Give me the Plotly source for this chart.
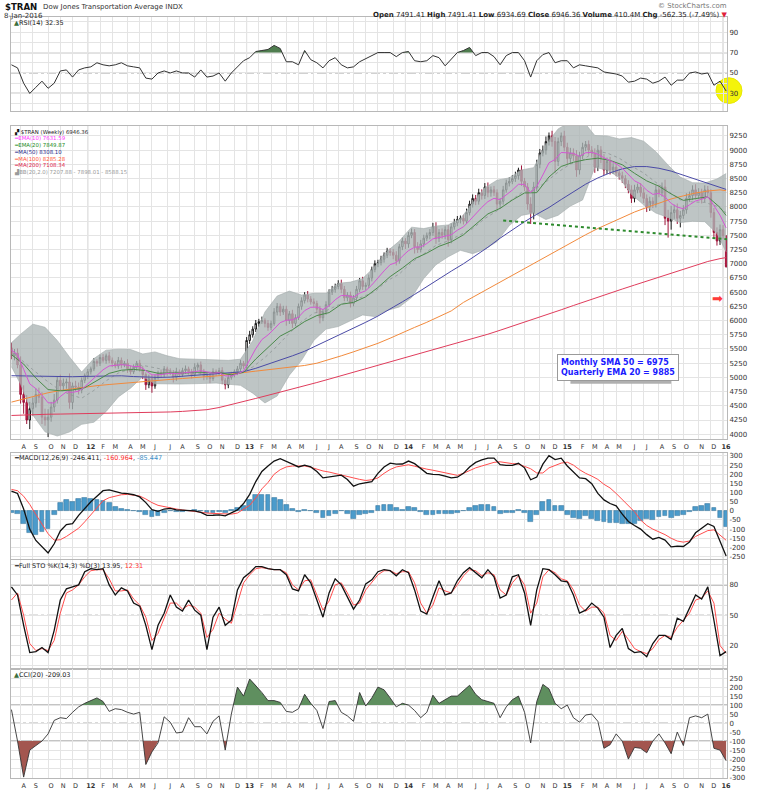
import pandas as pd
import plotly.graph_objects as go
from plotly.subplots import make_subplots

# ---------------- data (weekly) ----------------
START = "2011-07-15"
FIRST_OPEN = 5520

close = [
    5380, 5430, 5220, 4700, 4560, 4250, 4450, 4550, 4700, 4650,
    4300, 4250, 4300, 4480, 4600, 4950, 4850, 4900, 4920, 4560,
    4850, 4830, 4780, 4950, 5030, 5100, 5150, 5280, 5250, 5350,
    5300, 5380, 5300, 5250, 5200, 5300, 5220, 5250, 5150, 5100,
    5180, 5250, 5150, 5050, 4870, 4980, 4850, 5000, 5080, 5050,
    5150, 5100, 5080, 5000, 5100, 5050, 5120, 5150, 5100, 5050,
    5180, 5220, 5100, 5020, 5050, 4980, 5100, 5080, 5120, 4950,
    4870, 5000, 5050, 5100, 5150, 5250, 5200, 5650, 5750, 5850,
    5950, 5980, 6000, 5950, 5880, 5950, 6150, 6250, 6150, 6200,
    6000, 6120, 5950, 6050, 6250, 6350, 6450, 6380, 6330, 6300,
    6200, 6050, 6150, 6280, 6500, 6550, 6600, 6650, 6550, 6400,
    6450, 6300, 6400, 6550, 6700, 6600, 6620, 6750, 6900, 7000,
    7020, 7080, 7150, 7220, 7200, 7150, 7050, 7300, 7400, 7350,
    7500, 7550, 7300, 7250, 7350, 7450, 7500, 7550, 7650, 7450,
    7550, 7500, 7600, 7420, 7650, 7720, 7780, 7800, 7750, 7900,
    8050, 8150, 8100, 8250, 8200, 8350, 8250, 8300, 8250, 8050,
    8100, 8300, 8420, 8450, 8500, 8550, 8650, 8450, 8350, 8050,
    7900, 8350, 8750, 8950, 9000, 9150, 9250, 9150, 8800, 9150,
    9250, 9050, 8850, 8950, 8900, 8650, 8900, 9050, 9100, 9000,
    8950, 8700, 9000, 8850, 8650, 8800, 8650, 8700, 8600, 8550,
    8500, 8400, 8300, 8150, 8300, 8350, 8250, 8150, 8000, 8100,
    8050, 8300, 8250, 8350, 7800, 7750, 7900, 7950, 7800, 7850,
    7950, 8150, 8200, 8300, 8200, 8250, 8150, 8300, 8250, 7900,
    7550, 7400, 7600, 7491.41, 6946.36,
]
wick_hi = [
    90, 70, 80, 150, 160, 130, 120, 100, 110, 120,
    90, 150, 140, 90, 110, 70, 100, 80, 60, 150,
    60, 90, 80, 50, 40, 50, 40, 60, 40, 50,
    60, 40, 70, 50, 40, 60, 50, 40, 70, 60,
    50, 40, 60, 50, 40, 70, 60, 50, 40, 60,
    50, 40, 60, 50, 70, 40, 50, 60, 40, 50,
    70, 40, 60, 50, 40, 50, 60, 40, 50, 60,
    40, 60, 50, 40, 50, 60, 40, 60, 70, 50,
    60, 50, 70, 40, 60, 50, 70, 60, 50, 60,
    60, 50, 70, 60, 50, 60, 50, 70, 50, 60,
    50, 60, 50, 60, 50, 60, 50, 60, 70, 60,
    50, 60, 50, 60, 50, 70, 50, 60, 50, 60,
    50, 60, 50, 60, 50, 60, 70, 50, 60, 50,
    60, 70, 60, 80, 70, 60, 50, 60, 70, 80,
    60, 70, 60, 80, 60, 70, 60, 50, 60, 70,
    60, 70, 60, 70, 60, 70, 80, 60, 70, 60,
    60, 70, 60, 70, 60, 70, 40, 80, 60, 70,
    120, 90, 80, 70, 80, 90, 60, 90, 80, 70,
    60, 90, 80, 90, 80, 100, 70, 80, 60, 70,
    70, 80, 90, 70, 80, 70, 80, 70, 60, 70,
    70, 60, 70, 80, 90, 60, 70, 80, 70, 80,
    70, 80, 90, 80, 130, 150, 120, 90, 110, 80,
    80, 90, 70, 80, 100, 80, 70, 80, 70, 60,
    80, 90, 90, 80, 0,
]
wick_lo = [
    60, 80, 60, 160, 200, 70, 160, 120, 80, 100,
    120, 100, 300, 80, 90, 60, 80, 90, 100, 110,
    120, 70, 80, 60, 50, 60, 50, 40, 60, 50,
    40, 60, 50, 70, 40, 50, 60, 40, 70, 50,
    40, 60, 50, 80, 90, 60, 120, 50, 40, 60,
    50, 70, 40, 90, 60, 50, 40, 60, 50, 70,
    40, 60, 50, 70, 60, 80, 40, 60, 50, 70,
    80, 60, 40, 50, 60, 40, 50, 40, 60, 50,
    50, 60, 40, 70, 60, 50, 40, 60, 70, 50,
    90, 60, 80, 50, 40, 60, 50, 60, 50, 60,
    70, 100, 60, 50, 40, 50, 60, 50, 70, 60,
    60, 70, 50, 60, 50, 60, 70, 50, 60, 50,
    60, 50, 60, 50, 60, 70, 80, 50, 60, 90,
    70, 50, 120, 60, 50, 60, 50, 70, 60, 100,
    70, 60, 70, 120, 60, 50, 60, 70, 60, 50,
    50, 60, 70, 60, 70, 60, 80, 70, 60, 90,
    80, 60, 50, 60, 50, 60, 70, 80, 70, 100,
    200, 120, 80, 70, 60, 80, 70, 90, 200, 80,
    80, 70, 100, 80, 90, 120, 80, 60, 70, 80,
    80, 100, 70, 80, 90, 70, 80, 70, 60, 70,
    80, 70, 60, 80, 70, 60, 70, 80, 90, 70,
    70, 60, 80, 70, 120, 290, 150, 110, 100, 160,
    60, 70, 60, 80, 70, 60, 90, 70, 60, 90,
    100, 80, 70, 60, 11.67,
]

# every second week
ema10 = [
    5480, 5400, 5143, 4886, 4802, 4689, 4553, 4551, 4664, 4746,
    4737, 4758, 4836, 4932, 5041, 5134, 5201, 5208, 5224, 5214,
    5191, 5192, 5113, 5045, 5045, 5065, 5073, 5067, 5074, 5090,
    5100, 5118, 5091, 5076, 5085, 5026, 5026, 5060, 5113, 5309,
    5506, 5666, 5747, 5851, 5964, 6006, 6013, 6061, 6175, 6234,
    6237, 6194, 6262, 6366, 6442, 6437, 6410, 6483, 6525, 6627,
    6754, 6874, 6985, 7021, 7132, 7231, 7291, 7296, 7356, 7438,
    7460, 7491, 7510, 7590, 7650, 7760, 7880, 7993, 8093, 8152,
    8128, 8206, 8296, 8398, 8397, 8255, 8359, 8563, 8775, 8835,
    8958, 8952, 8942, 8891, 8953, 8959, 8928, 8866, 8817, 8760,
    8682, 8570, 8459, 8405, 8294, 8221, 8238, 8175, 8062, 7998,
    7967, 8037, 8105, 8135, 8180, 8024, 7854, 7631.59,
]
rsi = [
    58, 55, 40, 30, 36, 42, 35, 40, 52, 53,
    46, 53, 55, 56, 60, 58, 57, 58, 60, 57,
    56, 55, 45, 44, 50, 52, 50, 52, 50, 50,
    46, 53, 46, 47, 50, 42, 50, 56, 62, 65,
    71, 72, 73, 77, 74, 61, 61, 58, 72, 63,
    60, 55, 62, 65, 58, 55, 56, 61, 64, 67,
    70, 70, 70, 66, 70, 71, 62, 61, 62, 67,
    65, 57, 63, 70, 72, 75, 67, 70, 70, 66,
    58, 67, 70, 70, 62, 46, 62, 68, 70, 60,
    62, 62, 55, 58, 57, 56, 55, 51, 50, 49,
    47, 41, 42, 45, 44, 40, 42, 46, 38, 43,
    43, 50, 51, 49, 50, 38, 42, 32.35,
]
macd = [
    108, 95, 10, -100, -162, -195, -230, -180, -110, -75,
    -70, -25, 15, 50, 80, 110, 115, 105, 97, 94,
    88, 76, 45, 7, -3, 10, 14, 5, 2, 0,
    0, -9, -25, -24, -22, -27, -12, 5, 40, 90,
    160, 215, 245, 272, 285, 272, 255, 240, 250, 240,
    215, 180, 185, 190, 195, 171, 135, 148, 152, 160,
    205, 240, 261, 255, 256, 272, 258, 230, 205, 199,
    198, 190, 180, 184, 205, 240, 265, 278, 288, 288,
    252, 248, 248, 260, 235, 170, 185, 255, 302, 280,
    288, 245, 210, 180, 176, 148, 95, 60, 40, 27,
    -18, -58, -80, -100, -130, -155, -145, -160, -197, -193,
    -195, -170, -120, -95, -70, -85, -170, -246.411,
]
macd_signal = [
    117, 110, 80, 35, -20, -75, -125, -160, -158, -140,
    -118, -95, -60, -20, 20, 55, 72, 82, 88, 90,
    86, 81, 65, 45, 30, 22, 15, 10, 5, 0,
    -5, -9, -12, -14, -15, -17, -18, -12, 10, 30,
    70, 120, 155, 200, 225, 240, 245, 247, 245, 238,
    226, 218, 212, 205, 196, 189, 180, 172, 166, 170,
    180, 205, 226, 240, 248, 252, 244, 235, 228, 222,
    215, 205, 198, 194, 205, 222, 235, 245, 253, 265,
    268, 261, 258, 256, 245, 230, 207, 207, 235, 250,
    261, 266, 250, 225, 205, 190, 172, 145, 125, 95,
    63, 30, -5, -50, -80, -100, -115, -130, -150, -165,
    -171, -165, -140, -125, -108, -104, -130, -160.964,
]
macd_hist = [
    -9, -15, -70, -120, -130, -115, -100, -20, 45, 60,
    48, 65, 70, 65, 58, 52, 43, 23, 9, 4,
    2, -5, -20, -35, -30, -12, -1, -5, -3, 0,
    5, 0, -13, -10, -7, -10, 6, 17, 30, 60,
    85, 90, 85, 72, 60, 32, 10, -7, 5, 2,
    -11, -38, -27, -15, -1, -18, -42, -24, -14, -10,
    25, 35, 35, 15, 8, 20, 14, -5, -23, -23,
    -17, -15, -18, -10, 0, 18, 30, 33, 35, 23,
    -16, -13, -10, 4, -10, -60, -22, 48, 60, 30,
    27, -21, -40, -45, -29, -42, -55, -60, -65, -65,
    -70, -72, -70, -55, -45, -50, -35, -30, -40, -30,
    -22, -5, 20, 30, 38, 19, -40, -85.447,
]
sto_k = [
    78, 70, 40, 13, 14, 18, 13, 35, 65, 76,
    78, 80, 93, 96, 95, 96, 80, 70, 77, 74,
    62, 59, 40, 16, 40, 52, 70, 58, 54, 65,
    55, 50, 16, 48, 58, 40, 45, 75, 87, 92,
    98, 98, 96, 95, 95, 90, 76, 74, 90, 82,
    65, 48, 72, 86, 80, 68, 56, 65, 81, 85,
    93, 95, 94, 89, 95, 92, 75, 54, 51, 68,
    84, 70, 72, 84, 92, 97, 92, 87, 95, 88,
    67, 70, 88, 90, 72, 40, 75, 96, 95, 90,
    84, 83, 70, 52, 55, 62, 57, 48, 18, 30,
    37, 17, 13, 14, 9, 22, 30, 30, 26, 47,
    44, 57, 70, 66, 78, 45, 10, 13.95,
]
sto_d = [
    65, 72, 50, 22, 15, 17, 15, 25, 52, 72,
    75, 80, 88, 94, 95, 95, 86, 74, 74, 75,
    66, 60, 48, 25, 32, 48, 62, 62, 56, 60,
    58, 52, 28, 36, 52, 46, 42, 62, 82, 90,
    96, 97, 96, 95, 95, 92, 80, 75, 84, 85,
    70, 55, 64, 80, 82, 72, 60, 62, 75, 83,
    90, 94, 94, 91, 93, 93, 82, 62, 52, 60,
    77, 74, 72, 80, 89, 95, 94, 89, 92, 90,
    75, 70, 82, 89, 80, 52, 62, 88, 95, 92,
    86, 84, 75, 60, 54, 58, 58, 52, 30, 25,
    34, 26, 17, 14, 12, 17, 26, 30, 28, 38,
    45, 52, 65, 67, 74, 62, 20, 12.31,
]
cci = [
    75, -100, -300, -150, -125, -100, -60, 15, 30, 25,
    60, 90, 110, 125, 140, 120, 65, 80, 75, 60,
    50, 60, -230, -160, -110, 35, 5, -55, -50, 30,
    -20, -20, -60, 10, 40, -150, 50, 200, 150, 245,
    210, 170, 125, 125, 115, 65, 60, 80, 160, 110,
    70, -30, 120, 125, 60, 40, 10, 170, 95, 140,
    200, 185, 140, 90, 110, 100, 70, 30, 60, 155,
    110, 130, 150, 150, 180, 210, 160, 130, 120, 110,
    30, 90, 130, 150, 60, -110, 120, 215, 190, 110,
    80, 100, 30, 5, 45, 50, 10, -140, -120, -60,
    -100, -200, -135, -140, -165, -100, -60, -110, -170, -50,
    -125, 30, 40, 30, 50, -140, -150, -209.03,
]

# every fourth week (weeks 0,4,...,232 and the last week)
ema20 = [
    5400, 5235, 4988, 4786, 4764, 4779, 4818, 4942, 5071, 5127,
    5141, 5121, 5073, 5080, 5076, 5091, 5093, 5085, 5046, 5089,
    5324, 5531, 5727, 5839, 5983, 6088, 6140, 6287, 6320, 6418,
    6583, 6774, 6923, 7089, 7187, 7307, 7385, 7509, 7688, 7877,
    7975, 8121, 8246, 8251, 8527, 8712, 8786, 8832, 8858, 8818,
    8742, 8592, 8458, 8365, 8228, 8115, 8147, 8177, 7991, 7849.87,
]
ma50 = [
    5030, 5025, 5020, 5015, 5010, 5012, 5018, 5025, 5030, 5028,
    5015, 5005, 5000, 5005, 5020, 5035, 5050, 5060, 5075, 5100,
    5160, 5230, 5300, 5380, 5460, 5560, 5660, 5760, 5860, 5970,
    6080, 6200, 6330, 6460, 6600, 6740, 6870, 7000, 7140, 7290,
    7450, 7600, 7740, 7870, 7990, 8130, 8270, 8400, 8510, 8600,
    8670, 8710, 8710, 8680, 8630, 8560, 8490, 8420, 8350, 8308.10,
]
ma100 = [
    4565, 4620, 4680, 4730, 4770, 4800, 4830, 4855, 4875, 4895,
    4915, 4935, 4950, 4965, 4980, 4995, 5005, 5030, 5060, 5090,
    5110, 5135, 5160, 5185, 5210, 5250, 5310, 5380, 5450, 5520,
    5600, 5690, 5790, 5880, 5970, 6070, 6170, 6320, 6440, 6560,
    6680, 6800, 6920, 7040, 7160, 7280, 7400, 7510, 7620, 7720,
    7820, 7910, 7990, 8070, 8140, 8195, 8245, 8280, 8300, 8285.28,
]
ma200 = [
    4330, 4340, 4348, 4352, 4355, 4358, 4362, 4365, 4368, 4372,
    4375, 4378, 4385, 4392, 4402, 4414, 4432, 4470, 4520, 4575,
    4630, 4685, 4740, 4790, 4850, 4910, 4970, 5030, 5090, 5150,
    5210, 5268, 5330, 5390, 5450, 5510, 5570, 5630, 5690, 5760,
    5830, 5900, 5970, 6045, 6118, 6190, 6265, 6340, 6410, 6480,
    6555, 6625, 6695, 6765, 6840, 6910, 6980, 7040, 7090, 7108.34,
]
# Bollinger band samples (weeks 0,3,7,...,231 and the last week)
bb_mid = [
    5400, 5320, 5137, 4962, 4808, 4700, 4634, 4771, 4940, 5076,
    5151, 5212, 5169, 5124, 5083, 5068, 5062, 5088, 5066, 5082,
    5183, 5351, 5552, 5779, 5981, 6132, 6172, 6275, 6337, 6419,
    6510, 6699, 6819, 7024, 7179, 7323, 7403, 7516, 7618, 7796,
    7931, 8091, 8251, 8291, 8438, 8613, 8755, 8822, 8977, 8950,
    8857, 8720, 8597, 8432, 8275, 8125, 8087, 8080, 8012, 7898.01,
]
bb_up = [
    5610, 5760, 5937, 5882, 5650, 5360, 5094, 5331, 5480, 5496,
    5491, 5412, 5449, 5380, 5330, 5320, 5310, 5300, 5300, 5320,
    5643, 6151, 6432, 6519, 6450, 6480, 6480, 6655, 6677, 6739,
    6950, 7219, 7399, 7644, 7619, 7663, 7683, 7796, 8058, 8336,
    8471, 8511, 8651, 8691, 9098, 9373, 9495, 9522, 9257, 9250,
    9197, 9220, 9157, 8972, 8735, 8525, 8427, 8420, 8492, 8588.15,
]
bb_lo = [
    5190, 4880, 4337, 4042, 3968, 4040, 4174, 4211, 4400, 4656,
    4811, 5012, 4889, 4884, 4883, 4888, 4892, 4900, 4880, 4860,
    4723, 4551, 4672, 5039, 5300, 5650, 5850, 5895, 5997, 6099,
    6070, 6179, 6239, 6404, 6739, 6983, 7123, 7236, 7178, 7256,
    7391, 7671, 7851, 7891, 7778, 7853, 8015, 8122, 8697, 8650,
    8517, 8220, 8037, 7892, 7815, 7725, 7747, 7740, 7532, 7207.88,
]
trend_dates = ["2014-08-15", "2016-01-12"]
trend_vals = [7760, 7430]

# ---------------- derived positions ----------------
dates = pd.date_range(START, periods=len(close), freq="7D")
opens = [FIRST_OPEN] + close[:-1]
high = [max(o, c) + w for o, c, w in zip(opens, close, wick_hi)]
low = [min(o, c) - w for o, c, w in zip(opens, close, wick_lo)]
d2 = dates[::2]
d4 = dates[list(range(0, 233, 4)) + [len(close) - 1]]
dbb = dates[[0] + list(range(3, 232, 4)) + [len(close) - 1]]

W, H = 757, 800
ML, MR, MT, MB = 10, 29, 17, 13
FONT = "DejaVu Sans"


def pp(x, y):
    return (x - ML) / (W - ML - MR), (H - MB - y) / (H - MT - MB)


fig = make_subplots(rows=5, cols=1, shared_xaxes=True, vertical_spacing=0.0)


def beyond(xs, ys, thr, above=True):
    polys = []
    seg_x, seg_y = [], []
    out = (lambda v: v > thr) if above else (lambda v: v < thr)
    for i in range(len(ys)):
        if out(ys[i]):
            if not seg_x:
                if i > 0:
                    t = (thr - ys[i - 1]) / (ys[i] - ys[i - 1])
                    seg_x.append(xs[i - 1] + (xs[i] - xs[i - 1]) * t)
                else:
                    seg_x.append(xs[i])
                seg_y.append(thr)
            seg_x.append(xs[i])
            seg_y.append(ys[i])
        elif seg_x:
            t = (thr - ys[i - 1]) / (ys[i] - ys[i - 1])
            seg_x.append(xs[i - 1] + (xs[i] - xs[i - 1]) * t)
            seg_y.append(thr)
            polys.append((seg_x, seg_y))
            seg_x, seg_y = [], []
    if seg_x:
        seg_x.append(xs[-1])
        seg_y.append(thr)
        polys.append((seg_x, seg_y))
    return polys


def add_fill(xs, ys, thr, above, color, row):
    for px_, py_ in beyond(list(xs), ys, thr, above):
        fig.add_trace(go.Scatter(x=[p.isoformat() for p in px_], y=py_, mode="lines",
                                 fill="toself", fillcolor=color, line=dict(width=0),
                                 hoverinfo="skip"), row=row, col=1)


# ---- RSI ----
add_fill(d2, rsi, 70, True, "#4f7d4f", 1)
fig.add_trace(go.Scatter(x=d2, y=rsi, mode="lines", line=dict(color="#333333", width=1)), row=1, col=1)

# ---- price ----
fig.add_trace(go.Scatter(x=dbb, y=bb_up, mode="lines", line=dict(color="#a3abab", width=0.6)), row=2, col=1)
fig.add_trace(go.Scatter(x=dbb, y=bb_lo, mode="lines", line=dict(color="#a3abab", width=0.6),
                         fill="tonexty", fillcolor="rgba(172,181,181,0.78)"), row=2, col=1)
fig.add_trace(go.Scatter(x=dbb, y=bb_mid, mode="lines", line=dict(color="#8e9696", width=0.8, dash="dot")), row=2, col=1)
fig.add_trace(go.Scatter(x=d4, y=ma200, mode="lines", line=dict(color="#e03c5c", width=1)), row=2, col=1)
fig.add_trace(go.Scatter(x=d4, y=ma100, mode="lines", line=dict(color="#f28a3c", width=1)), row=2, col=1)
fig.add_trace(go.Scatter(x=d4, y=ma50, mode="lines", line=dict(color="#4a4aa6", width=1)), row=2, col=1)
fig.add_trace(go.Scatter(x=trend_dates, y=trend_vals, mode="lines",
                         line=dict(color="#2e8b2e", width=2, dash="dot")), row=2, col=1)
fig.add_trace(go.Candlestick(x=dates, open=opens, high=high, low=low, close=close,
                             increasing=dict(line=dict(color="#1a1a1a", width=1), fillcolor="#ffffff"),
                             decreasing=dict(line=dict(color="#9e1238", width=1), fillcolor="#c8234f"),
                             whiskerwidth=0), row=2, col=1)
fig.add_trace(go.Scatter(x=d4, y=ema20, mode="lines", line=dict(color="#4a8a4a", width=1)), row=2, col=1)
fig.add_trace(go.Scatter(x=d2, y=ema10, mode="lines", line=dict(color="#d455d4", width=1)), row=2, col=1)

# ---- MACD ----
fig.add_trace(go.Bar(x=d2, y=macd_hist, width=11 * 86400000,
                     marker=dict(color="#4b9bcb", line=dict(color="#2f6f96", width=0.5))), row=3, col=1)
fig.add_trace(go.Scatter(x=d2, y=macd_signal, mode="lines", line=dict(color="#ff4d4d", width=1)), row=3, col=1)
fig.add_trace(go.Scatter(x=d2, y=macd, mode="lines", line=dict(color="#111111", width=1.3)), row=3, col=1)

# ---- STO ----
fig.add_trace(go.Scatter(x=d2, y=sto_d, mode="lines", line=dict(color="#ff4d4d", width=1)), row=4, col=1)
fig.add_trace(go.Scatter(x=d2, y=sto_k, mode="lines", line=dict(color="#111111", width=1.3)), row=4, col=1)

# ---- CCI ----
add_fill(d2, cci, 100, True, "#5f8f5f", 5)
add_fill(d2, cci, -100, False, "#a3564f", 5)
fig.add_trace(go.Scatter(x=d2, y=cci, mode="lines", line=dict(color="#333333", width=0.9)), row=5, col=1)

# ---------------- axes ----------------
tick_vals, tick_text, year_vals = [], [], []
prev = None
for d in dates:
    key = (d.year, d.month)
    if prev is not None and key != prev:
        tick_vals.append(d)
        if d.month == 1:
            tick_text.append("<b>%02d</b>" % (d.year % 100))
            year_vals.append(d)
        else:
            tick_text.append("JFMAMJJASOND"[d.month - 1])
    prev = key

x_range = [dates[0] - pd.Timedelta(days=1), dates[-1] + pd.Timedelta(days=2)]
for r in range(1, 6):
    fig.update_xaxes(row=r, col=1, range=x_range, tickvals=tick_vals, ticktext=tick_text,
                     showgrid=True, gridcolor="#e4e4e4", gridwidth=1,
                     showline=True, mirror=True, linecolor="#b8b8b8", linewidth=1,
                     ticks="", showticklabels=(r in (2, 5)), ticklabelshift=3,
                     ticklabelstandoff=1,
                     tickfont=dict(family=FONT, size=6.5, color="#333333"),
                     rangeslider=dict(visible=False))


def yax(row, rng, vals, texts, dom):
    fig.update_yaxes(row=row, col=1, range=rng, tickvals=vals, ticktext=texts, side="right",
                     showgrid=True, gridcolor="#e4e4e4", zeroline=False,
                     showline=True, mirror=True, linecolor="#b8b8b8", ticks="",
                     tickfont=dict(family=FONT, size=7, color="#333333"), domain=dom)


rsi_t = list(range(20, 101, 10))
yax(1, [12.9, 104.8], rsi_t, [str(v) if v in (30, 50, 70, 90) else "" for v in rsi_t],
    [pp(0, 112)[1], 1.0])
pr_t = list(range(4000, 9251, 250))
yax(2, [3916, 9429], pr_t, [str(v) for v in pr_t], [pp(0, 444)[1], pp(0, 127)[1]])
m_t = list(range(-250, 301, 50))
yax(3, [-261, 317], m_t, [str(v) for v in m_t], [pp(0, 565)[1], pp(0, 458)[1]])
s_t = list(range(0, 101, 10))
yax(4, [-3.5, 105], s_t, [str(v) if v in (20, 50, 80) else "" for v in s_t],
    [pp(0, 677)[1], pp(0, 566)[1]])
c_t = list(range(-300, 251, 50))
yax(5, [-305, 299], c_t, [str(v) for v in c_t], [0.0, pp(0, 677)[1]])

# reference lines and year lines
shapes = []
for yref, levels in (("y", [(70, "solid"), (50, "dashdot"), (30, "solid")]),
                     ("y4", [(80, "solid"), (50, "dashdot"), (20, "solid")]),
                     ("y5", [(100, "solid"), (0, "dashdot"), (-100, "solid")])):
    for lv, ds in levels:
        shapes.append(dict(type="line", xref="x domain", yref=yref, x0=0, x1=1, y0=lv, y1=lv,
                           line=dict(color="#8a8a8a", width=1.2 if ds == "solid" else 0.8, dash=ds),
                           layer="below"))
for yv in year_vals:
    for yd in ("y domain", "y2 domain", "y3 domain", "y4 domain", "y5 domain"):
        shapes.append(dict(type="line", xref="x", yref=yd, x0=yv, x1=yv, y0=0, y1=1,
                           line=dict(color="#c4c4c4", width=1), layer="below"))
# highlight circle on RSI
cx0, cy0 = pp(717, 104.5)
cx1, cy1 = pp(743, 78.5)
shapes.append(dict(type="circle", xref="paper", yref="paper", x0=cx0, x1=cx1, y0=cy0, y1=cy1,
                   fillcolor="#f4f40a", line=dict(color="#e8e800", width=1), layer="below"))
# shadow for note box
sx0, sy0 = pp(571, 388)
sx1, sy1 = pp(672, 361)
shapes.append(dict(type="rect", xref="paper", yref="paper", x0=sx0, x1=sx1, y0=sy0, y1=sy1,
                   fillcolor="#b0b0b0", line=dict(width=0), layer="above"))

ann = []


def note(text, x, y, size=6.5, color="#222222", xanchor="left", **kw):
    px_, py_ = pp(x, y)
    d = dict(text=text, x=px_, y=py_, xref="paper", yref="paper", showarrow=False,
             xanchor=xanchor, yanchor="middle", font=dict(family=FONT, size=size, color=color))
    d.update(kw)
    ann.append(d)


note("<b>$TRAN</b>", 2, 7, size=8.6, color="#111111")
note("Dow Jones Transportation Average INDX", 40, 7, size=7, color="#333333")
note("8-Jan-2016", 1, 15.5, size=7, color="#333333")
note("© StockCharts.com", 730, 5.5, size=7, color="#777777", xanchor="right")
note("<b>Open</b> 7491.41 <b>High</b> 7491.41 <b>Low</b> 6934.69 <b>Close</b> 6946.36 "
     "<b>Volume</b> 410.4M <b>Chg</b> -562.35 (-7.49%) <span style='color:#e0203a'>▼</span>",
     730, 15, size=7, color="#222222", xanchor="right")
note("<span style='color:#3c6e3c'>▲</span>RSI(14) 32.35", 11, 23)
LEG = 5.4
note("<span style='color:#111'>▞</span> $TRAN (Weekly) 6946.36", 11, 133, size=LEG)
note("<span style='color:#ff33ff'>━EMA(10) 7631.59</span>", 11, 139.8, size=LEG)
note("<span style='color:#228b22'>━EMA(20) 7849.87</span>", 11, 146.6, size=LEG)
note("<span style='color:#2a2a8a'>━MA(50) 8308.10</span>", 11, 153.4, size=LEG)
note("<span style='color:#ff5a3c'>━MA(100) 8285.28</span>", 11, 160.2, size=LEG)
note("<span style='color:#e0244e'>━MA(200) 7108.34</span>", 11, 167, size=LEG)
note("<span style='color:#9a9a9a'>▟BB(20,2.0) 7207.88 - 7898.01 - 8588.15</span>", 11, 173.8, size=LEG)
note("<span style='color:#111'>━</span>MACD(12,26,9) -246.411, <span style='color:#ff3030'>-160.964</span>, "
     "<span style='color:#3a8fc8'>-85.447</span>", 11, 463)
note("<span style='color:#111'>━</span>Full STO %K(14,3) %D(3) 13.95, <span style='color:#ff3030'>12.31</span>", 11, 572)
note("<span style='color:#3c6e3c'>▲</span>CCI(20) -209.03", 11, 683)
note("<b>Monthly SMA 50 = 6975<br>Quarterly EMA 20 = 9885</b>", 619, 372, size=8, color="#1a1aff",
     xanchor="center", align="left", bgcolor="#ffffff", bordercolor="#9a9a9a", borderwidth=1, borderpad=3)
note("➡", 718, 302, size=13, color="#ff3b3b", xanchor="center")

fig.update_layout(width=W, height=H, margin=dict(l=ML, r=MR, t=MT, b=MB),
                  paper_bgcolor="#ffffff", plot_bgcolor="#ffffff", showlegend=False,
                  shapes=shapes, annotations=ann, bargap=0,
                  font=dict(family=FONT, size=7, color="#333333"))

fig.write_html("out.html")
